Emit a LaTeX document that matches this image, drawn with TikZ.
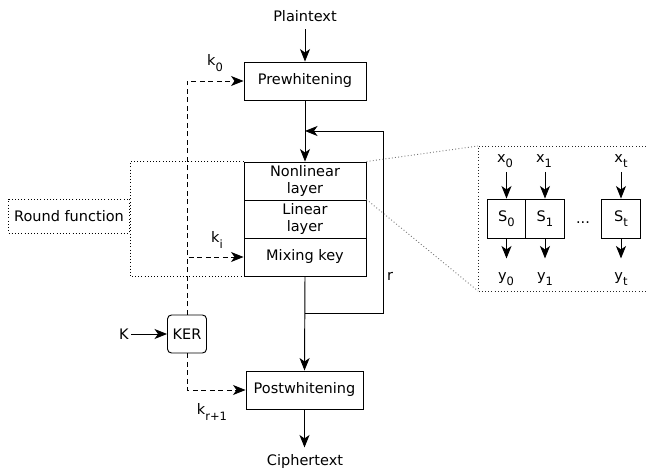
\documentclass[tikz,border=0pt]{standalone}
\usepackage{fontspec}
\setmainfont{DejaVu Sans}
\usetikzlibrary{arrows.meta}
\newcommand\lowsub[1]{\raisebox{-5.5pt}{\fontsize{11.5}{11.5}\selectfont #1}}
\begin{document}
\begin{tikzpicture}[x=1pt,y=-1pt,
  font=\fontsize{14.5}{17}\selectfont,
  line width=0.95pt,
  >={Stealth[length=12.5pt,width=10pt,inset=3.5pt]},
  blk/.style={draw,rectangle,minimum width=122pt,minimum height=38pt,inner sep=0pt,align=center},
  sbox/.style={draw,rectangle,minimum width=38.5pt,minimum height=39pt,inner sep=0pt},
  lbl/.style={inner sep=2pt},
  keyline/.style={->,dash pattern=on 5pt off 3.5pt},
  dots/.style={line width=0.9pt,dash pattern=on 0.9pt off 2.3pt},
  graydots/.style={dots,draw=black!55}]
\useasboundingbox (0,0) rectangle (646,470);

% main data path
\node[lbl] (plain) at (305,16) {Plaintext};
\node[blk] (pre) at (305,81) {Prewhitening};
\node[blk] (nl) at (305,181) {Nonlinear\\layer};
\node[blk] (ll) at (305,219) {Linear\\layer};
\node[blk] (mk) at (305,257) {Mixing key};
\node[blk,minimum width=117pt] (post) at (304.5,390) {Postwhitening};
\node[lbl] (cipher) at (305,462) {Ciphertext};

\draw[->] (plain.south) ++(0,5) -- (pre.north);
\draw[->] (pre.south) -- (nl.north);
\draw[->] (mk.south) -- (post.north);
\draw[->] (post.south) -- ++(0,38);

% round feedback
\coordinate (fb) at (383,313);
\coordinate (join) at (305,131);
\draw[->] (mk.south |- fb) -- (fb) |- (join);
\node[lbl] (r) at (390,276) {r};

% key schedule
\node[draw,rectangle,rounded corners=4pt,minimum width=39pt,minimum height=38pt,inner sep=0pt] (ker) at (187,334) {KER};
\node[lbl] (K) at (124,334) {K};
\draw[->] (K.east) -- (ker.west);
\draw[keyline] (ker.north) |- (pre.west);
\draw[keyline] (ker.north) |- (mk.west);
\draw[keyline] (ker.south) |- (post.west);
\node[lbl] (k0) at (215,63) {k\lowsub{0}};
\node[lbl] (ki) at (217,240) {k\lowsub{i}};
\node[lbl] (kr) at (212,412) {k\lowsub{r+1}};

% round function bracket
\node[draw,dots,minimum width=121pt,minimum height=34pt] (rf) at (69,216) {Round function};
\draw[dots] (nl.north west) -- (nl.north west -| rf.east) -- (mk.south west -| rf.east) -- (mk.south west);

% S-box detail
\coordinate (zt) at (478,146);
\coordinate (zb) at (478,291);
\draw[graydots] (nl.north east) -- (zt);
\draw[graydots] (ll.north east) -- (zb);
\draw[dots,draw=black!85] (646,146) -- (zt) -- (zb) -- (646,291);

\node[sbox] (s0) at (506.5,218.5) {S\lowsub{0}};
\node[sbox] (s1) at (545,218.5) {S\lowsub{1}};
\node[sbox] (st) at (621,218.5) {S\lowsub{t}};
\node[anchor=base,inner sep=0pt] (dd) at (583,224) {...};

\node[lbl] (x0) at (505,161) {x\lowsub{0}};
\node[lbl] (x1) at (544,161) {x\lowsub{1}};
\node[lbl] (xt) at (621,161) {x\lowsub{t}};
\node[lbl] (y0) at (506,279) {y\lowsub{0}};
\node[lbl] (y1) at (545,279) {y\lowsub{1}};
\node[lbl] (yt) at (621,279) {y\lowsub{t}};

\draw[->] (s0.north |- 0,172) -- (s0.north);
\draw[->] (s1.north |- 0,172) -- (s1.north);
\draw[->] (st.north |- 0,172) -- (st.north);
\draw[->] (s0.south) -- ++(0,20);
\draw[->] (s1.south) -- ++(0,20);
\draw[->] (st.south) -- ++(0,20);
\end{tikzpicture}
\end{document}
